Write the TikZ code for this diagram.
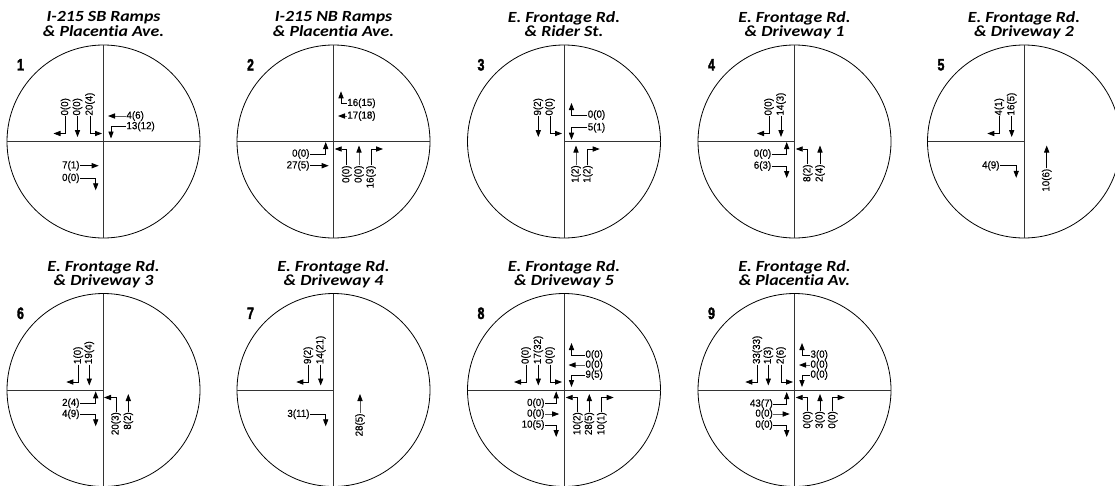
\documentclass[tikz,border=0pt]{standalone}
\usepackage{fontspec}
\usetikzlibrary{arrows.meta,calc}
\newfontfamily\ttlfam{Carlito}[FakeStretch=1.15,Ligatures=NoCommon]
\newfontfamily\numfam{Liberation Sans}[FakeStretch=0.75,FakeBold=2]
\newfontfamily\volfam{Liberation Sans}[FakeStretch=0.95,FakeBold=0.4]
\tikzset{
  ring/.style={circle, draw, line width=0.8pt, minimum size=193pt, inner sep=0pt, outer sep=0pt},
  street/.style={line width=1pt, draw=black!80},
  vol/.style={font={\volfam\fontsize{10.3}{12}\selectfont}, inner sep=0.3pt},
  mv/.style={line width=0.8pt, -{Triangle[length=7pt,width=5.2pt]}},
  ttl/.style={font={\ttlfam\bfseries\itshape\fontsize{15.5}{14.3}\selectfont}, align=center, anchor=north, inner sep=0pt},
  num/.style={font={\numfam\bfseries\fontsize{16.5}{18}\selectfont}, inner sep=0pt}
}
% path tails of the movements
\def\tlSL{-- ++(-12,0)}
\def\tlST{-- ++(0,3.5)}
\def\tlSR{-- ++(12,0)}
\def\tlNL{-- ++(-12,0)}
\def\tlNT{-- ++(0,-3.5)}
\def\tlNR{-- ++(12,0)}
\def\tlWU{-- ++(0,-12)}
\def\tlWT{-- ++(-3,0)}
\def\tlWD{-- ++(0,12)}
\def\tlEU{-- ++(0,-12)}
\def\tlET{-- ++(3,0)}
\def\tlED{-- ++(0,12)}
% #1 centre, #2 name, #3 lane offset, #4 tail, #5 text (, #6 label position)
\newcommand\SBm[5]{%
  \begin{scope}[shift={(#1.center)}]
    \node[vol,rotate=90,anchor=west] (#2) at (#3,-25.5) {#5};
    \draw[mv] (#2.west) -- (#3,-8) #4;
  \end{scope}}
\newcommand\NBm[6]{%
  \begin{scope}[shift={(#1.center)}]
    \node[vol,rotate=90,anchor=east] (#2) at (#3,#6) {#5};
    \draw[mv] (#2.east) -- (#3,7.5) #4;
  \end{scope}}
\newcommand\WBm[6]{%
  \begin{scope}[shift={(#1.center)}]
    \node[vol,anchor=west] (#2) at (#6,#3) {#5};
    \draw[mv] (#2.west) -- (7.5,#3) #4;
  \end{scope}}
\newcommand\EBm[6]{%
  \begin{scope}[shift={(#1.center)}]
    \node[vol,anchor=east] (#2) at (#6,#3) {#5};
    \draw[mv] (#2.east) -- (-7.8,#3) #4;
  \end{scope}}
\begin{document}
\begin{tikzpicture}[x=1pt,y=-1pt]
\useasboundingbox (0,0) rectangle (1115,485);
% circles
\node[ring] (c1) at (103.5,141.5) {};
\node[ring] (c2) at (333.5,141.5) {};
\node[ring] (c3) at (564,141.5) {};
\node[ring] (c4) at (794.5,141.5) {};
\node[ring] (c5) at (1024,141.5) {};
\node[ring] (c6) at (103.5,390) {};
\node[ring] (c7) at (333.5,390) {};
\node[ring] (c8) at (564,390) {};
\node[ring] (c9) at (794.5,390) {};
% streets
\foreach \c in {c1,c2,c3,c4,c5,c6,c7,c8,c9}{\draw[street] (\c.north) -- (\c.south);}
\foreach \c in {c1,c2,c8,c9}{\draw[street] (\c.west) -- (\c.east);}
\draw[street] (c3.center) -- (c3.east);
\foreach \c in {c4,c5,c6,c7}{\draw[street] (\c.west) -- (\c.center);}
% titles
\node[ttl] (t1) at ($(c1)+(0,-130)$) {I-215 SB Ramps\\\& Placentia Ave.};
\node[ttl] (t2) at ($(c2)+(0,-130)$) {I-215 NB Ramps\\\& Placentia Ave.};
\node[ttl] (t3) at ($(c3)+(0,-130)$) {E. Frontage Rd.\\\& Rider St.};
\node[ttl] (t4) at ($(c4)+(0,-130)$) {E. Frontage Rd.\\\& Driveway 1};
\node[ttl] (t5) at ($(c5)+(0,-130)$) {E. Frontage Rd.\\\& Driveway 2};
\node[ttl] (t6) at ($(c6)+(0,-130)$) {E. Frontage Rd.\\\& Driveway 3};
\node[ttl] (t7) at ($(c7)+(0,-130)$) {E. Frontage Rd.\\\& Driveway 4};
\node[ttl] (t8) at ($(c8)+(0,-130)$) {E. Frontage Rd.\\\& Driveway 5};
\node[ttl] (t9) at ($(c9)+(0,-130)$) {E. Frontage Rd.\\\& Placentia Av.};
% numbers
\foreach \c/\n in {c1/1,c2/2,c3/3,c4/4,c5/5,c6/6,c7/7,c8/8,c9/9}{\node[num] (n\n) at ($(\c)+(-83,-76.7)$) {\n};}
% 1
\SBm{c1}{c1sL}{-38}{\tlSL}{0(0)}
\SBm{c1}{c1sT}{-26}{\tlST}{0(0)}
\SBm{c1}{c1sR}{-13.5}{\tlSR}{20(4)}
\WBm{c1}{c1wT}{-25.5}{\tlWT}{4(6)}{22.5}
\WBm{c1}{c1wD}{-15}{\tlWD}{13(12)}{22.5}
\EBm{c1}{c1eT}{24.2}{\tlET}{7(1)}{-23.5}
\EBm{c1}{c1eD}{36.8}{\tlED}{0(0)}{-23.5}
% 2
\WBm{c2}{c2wU}{-38.2}{\tlWU}{16(15)}{13.3}
\WBm{c2}{c2wT}{-25.5}{\tlWT}{17(18)}{13.3}
\EBm{c2}{c2eU}{12.5}{\tlEU}{0(0)}{-23.5}
\EBm{c2}{c2eT}{24.2}{\tlET}{27(5)}{-23.5}
\NBm{c2}{c2nL}{13.2}{\tlNL}{0(0)}{23.5}
\NBm{c2}{c2nT}{25.5}{\tlNT}{0(0)}{23.5}
\NBm{c2}{c2nR}{37.5}{\tlNR}{16(3)}{23.5}
% 3
\SBm{c3}{c3sT}{-25.7}{\tlST}{9(2)}
\SBm{c3}{c3sR}{-14}{\tlSR}{0(0)}
\WBm{c3}{c3wU}{-26.5}{\tlWU}{0(0)}{23.3}
\WBm{c3}{c3wD}{-13.8}{\tlWD}{5(1)}{23.3}
\NBm{c3}{c3nT}{12}{\tlNT}{1(2)}{23.3}
\NBm{c3}{c3nR}{23.7}{\tlNR}{1(2)}{23.3}
% 4
\SBm{c4}{c4sL}{-25.5}{\tlSL}{0(0)}
\SBm{c4}{c4sT}{-13.5}{\tlST}{14(3)}
\EBm{c4}{c4eU}{12.5}{\tlEU}{0(0)}{-22.8}
\EBm{c4}{c4eD}{24.5}{\tlED}{6(3)}{-22.8}
\NBm{c4}{c4nL}{13.2}{\tlNL}{8(2)}{22.5}
\NBm{c4}{c4nT}{25.5}{\tlNT}{2(4)}{22.5}
% 5
\SBm{c5}{c5sL}{-24.7}{\tlSL}{4(1)}
\SBm{c5}{c5sT}{-12.3}{\tlST}{16(5)}
\EBm{c5}{c5eD}{24.3}{\tlED}{4(9)}{-24}
\NBm{c5}{c5nT}{22.7}{\tlNT}{10(6)}{26.8}
% 6
\SBm{c6}{c6sL}{-25.2}{\tlSL}{1(0)}
\SBm{c6}{c6sT}{-14.2}{\tlST}{19(4)}
\EBm{c6}{c6eU}{13.3}{\tlEU}{2(4)}{-23.5}
\EBm{c6}{c6eD}{24.3}{\tlED}{4(9)}{-23.5}
\NBm{c6}{c6nL}{12.5}{\tlNL}{20(3)}{21.7}
\NBm{c6}{c6nT}{24.8}{\tlNT}{8(2)}{21.7}
% 7
\SBm{c7}{c7sL}{-25.2}{\tlSL}{9(2)}
\SBm{c7}{c7sT}{-12.8}{\tlST}{14(21)}
\EBm{c7}{c7eD}{24.3}{\tlED}{3(11)}{-23.5}
\NBm{c7}{c7nT}{26.5}{\tlNT}{28(5)}{23}
% 8
\SBm{c8}{c8sL}{-38}{\tlSL}{0(0)}
\SBm{c8}{c8sT}{-25.7}{\tlST}{17(32)}
\SBm{c8}{c8sR}{-14}{\tlSR}{0(0)}
\WBm{c8}{c8wU}{-35}{\tlWU}{0(0)}{21}
\WBm{c8}{c8wT}{-25}{\tlWT}{0(0)}{21}
\WBm{c8}{c8wD}{-15}{\tlWD}{9(5)}{21}
\EBm{c8}{c8eU}{13.3}{\tlEU}{0(0)}{-19}
\EBm{c8}{c8eT}{24}{\tlET}{0(0)}{-19}
\EBm{c8}{c8eD}{35}{\tlED}{10(5)}{-19}
\NBm{c8}{c8nL}{13.7}{\tlNL}{10(2)}{21.7}
\NBm{c8}{c8nT}{25.3}{\tlNT}{28(5)}{21.7}
\NBm{c8}{c8nR}{37.7}{\tlNR}{10(1)}{21.7}
% 9
\SBm{c9}{c9sL}{-37.2}{\tlSL}{33(33)}
\SBm{c9}{c9sT}{-26.2}{\tlST}{1(3)}
\SBm{c9}{c9sR}{-13.5}{\tlSR}{2(6)}
\WBm{c9}{c9wU}{-35}{\tlWU}{3(0)}{15.5}
\WBm{c9}{c9wT}{-25}{\tlWT}{0(0)}{15.5}
\WBm{c9}{c9wD}{-15}{\tlWD}{0(0)}{15.5}
\EBm{c9}{c9eU}{14}{\tlEU}{43(7)}{-21.2}
\EBm{c9}{c9eT}{24}{\tlET}{0(0)}{-21.2}
\EBm{c9}{c9eD}{35}{\tlED}{0(0)}{-21.2}
\NBm{c9}{c9nL}{13.2}{\tlNL}{0(0)}{20.7}
\NBm{c9}{c9nT}{25.5}{\tlNT}{3(0)}{20.7}
\NBm{c9}{c9nR}{38.2}{\tlNR}{0(0)}{20.7}
\end{tikzpicture}
\end{document}
